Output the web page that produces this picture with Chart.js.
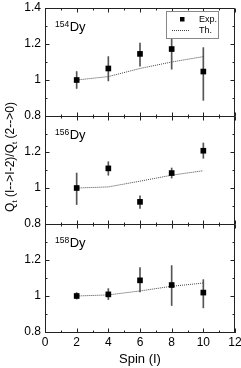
<!DOCTYPE html>
<html>
<head>
<meta charset="utf-8">
<script src="https://cdn.jsdelivr.net/npm/chart.js@4"></script>
<style>
  html, body { margin: 0; padding: 0; background: #fff; }
  #wrap { width: 241px; height: 368px; }
</style>
</head>
<body>
<div id="wrap"><canvas id="myChart" width="241" height="368"></canvas></div>
<script>
const spins = [2, 4, 6, 8, 10]
const xTicks = [0, 2, 4, 6, 8, 10, 12]
const yTicks = [0.8, 1, 1.2, 1.4]

const nuclei = ['154', '156', '158']

const exp154 = [1.00, 1.064, 1.145, 1.172, 1.047]
const lo154 = [0.953, 0.995, 1.077, 1.06, 0.887]
const hi154 = [1.047, 1.13, 1.205, 1.245, 1.18]
const th154 = [1.00, 1.019, 1.064, 1.10, 1.13]

const exp156 = [1.00, 1.109, 0.923, 1.083, 1.207]
const lo156 = [0.908, 1.071, 0.886, 1.055, 1.165]
const hi156 = [1.083, 1.146, 0.957, 1.111, 1.25]
const th156 = [1.00, 1.006, 1.038, 1.071, 1.096]

const exp158 = [1.00, 1.009, 1.087, 1.061, 1.019]
const lo158 = [0.983, 0.98, 1.022, 0.947, 0.934]
const hi158 = [1.019, 1.041, 1.158, 1.169, 1.091]
const th158 = [1.00, 1.006, 1.028, 1.054, 1.072]

const FONT = "'Liberation Sans', Arial, Helvetica, sans-serif"
Chart.defaults.color = '#000'
Chart.defaults.font.family = FONT

// top to bottom
const panels = [
    { axis: 'yTop', exp: exp154, lo: lo154, hi: hi154, th: th154 },
    { axis: 'yMid', exp: exp156, lo: lo156, hi: hi156, th: th156 },
    { axis: 'yBot', exp: exp158, lo: lo158, hi: hi158, th: th158 },
]

const datasets = []
panels.forEach((p) => {
    datasets.push({
        type: 'bar',
        label: 'err',
        yAxisID: p.axis,
        data: spins.map((s, i) => ({ x: s, y: [p.lo[i], p.hi[i]] })),
        backgroundColor: '#555',
        barThickness: 1,
        grouped: false,
        order: 3,
    })
    datasets.push({
        type: 'line',
        label: 'Th.',
        yAxisID: p.axis,
        data: spins.map((s, i) => ({ x: s, y: p.th[i] })),
        borderColor: '#444',
        borderWidth: 1,
        borderDash: [1, 1],
        pointRadius: 0,
        fill: false,
        order: 2,
    })
    datasets.push({
        type: 'line',
        label: 'Exp.',
        yAxisID: p.axis,
        data: spins.map((s, i) => ({ x: s, y: p.exp[i] })),
        showLine: false,
        pointStyle: 'rect',
        pointRadius: 4,
        pointBackgroundColor: '#000',
        pointBorderWidth: 0,
        order: 1,
    })
})

const yAxis = (id) => ({
    type: 'linear',
    position: 'left',
    stack: 'panels',
    min: 0.8,
    max: 1.4,
    afterBuildTicks: (scale) => { scale.ticks = yTicks.map(v => ({ value: v })) },
    ticks: {
        padding: 4,
        font: { size: 12 },
        callback: (v) => (id !== 'yTop' && v > 1.39) ? '' : String(Math.round(v * 10) / 10),
    },
    grid: { drawOnChartArea: false, drawTicks: false },
    border: { display: true, color: '#222', width: 1 },
    afterFit: (scale) => {
        scale.width = 45
        scale.paddingTop = 0
        scale.paddingBottom = 0
    },
})

// frames, inward ticks, panel labels, legend, y title
const decor = {
    id: 'decor',
    afterDatasetsDraw(chart) {
        const ctx = chart.ctx
        const x = chart.scales.x
        ctx.save()
        ctx.strokeStyle = '#222'
        ctx.lineWidth = 1
        panels.forEach((p, k) => {
            const y = chart.scales[p.axis]
            const top = Math.round(y.top) + 0.5
            const bot = Math.round(y.bottom) + 0.5
            const l = Math.round(x.left) + 0.5
            const r = Math.round(x.right) - 0.5
            ctx.beginPath()
            ctx.rect(l, top, r - l, bot - top)
            ctx.stroke()
            ctx.beginPath()
            for (let v = 0; v <= 12; v++) {
                const px = Math.round(x.getPixelForValue(v)) + 0.5
                const len = v % 2 === 0 ? 4 : 2
                ctx.moveTo(px, top); ctx.lineTo(px, top + len)
                ctx.moveTo(px, bot); ctx.lineTo(px, bot - len)
            }
            for (let j = 8; j <= 14; j++) {
                const py = Math.round(y.getPixelForValue(j / 10)) + 0.5
                const len = j % 2 === 0 ? 4 : 2
                ctx.moveTo(l, py); ctx.lineTo(l + len, py)
                ctx.moveTo(r, py); ctx.lineTo(r - len, py)
            }
            ctx.stroke()

            // nucleus label
            ctx.fillStyle = '#000'
            ctx.textBaseline = 'alphabetic'
            ctx.textAlign = 'left'
            ctx.font = '8.5px ' + FONT
            ctx.fillText(nuclei[k], 55, y.top + 19)
            const w = ctx.measureText(nuclei[k]).width
            ctx.font = '13px ' + FONT
            ctx.fillText('Dy', 55 + w + 0.5, y.top + 23)
        })

        // legend
        ctx.fillStyle = '#fff'
        ctx.fillRect(166, 11, 52, 27)
        ctx.strokeStyle = '#888'
        ctx.strokeRect(166.5, 11.5, 52, 27)
        ctx.fillStyle = '#000'
        ctx.fillRect(180, 17, 4.5, 4.5)
        ctx.strokeStyle = '#444'
        ctx.setLineDash([1, 1])
        ctx.beginPath()
        ctx.moveTo(172, 30.5); ctx.lineTo(190, 30.5)
        ctx.stroke()
        ctx.setLineDash([])
        ctx.font = '9px ' + FONT
        ctx.textBaseline = 'middle'
        ctx.fillText('Exp.', 199, 19.5)
        ctx.fillText('Th.', 199, 30.5)

        // y title with subscripts
        const parts = [['Q', 12, 0], ['t', 8, 3], [' (I-->I-2)/Q', 12, 0], ['t', 8, 3], [' (2-->0)', 12, 0]]
        let total = 0
        parts.forEach(p => { ctx.font = p[1] + 'px ' + FONT; total += ctx.measureText(p[0]).width })
        ctx.translate(14, 157)
        ctx.rotate(-Math.PI / 2)
        ctx.textBaseline = 'alphabetic'
        let cx = -total / 2
        parts.forEach(p => {
            ctx.font = p[1] + 'px ' + FONT
            ctx.fillText(p[0], cx, p[2])
            cx += ctx.measureText(p[0]).width
        })
        ctx.restore()
    }
}

const config = {
    type: 'line',
    data: { datasets: datasets },
    options: {
        responsive: false,
        animation: false,
        events: [],
        layout: { padding: { left: 0, right: 6, top: 8, bottom: 0 } },
        plugins: {
            legend: { display: false },
            tooltip: { enabled: false },
        },
        scales: {
            x: {
                type: 'linear',
                position: 'bottom',
                min: 0,
                max: 12,
                offset: false,
                afterBuildTicks: (scale) => { scale.ticks = xTicks.map(v => ({ value: v })) },
                ticks: { padding: 3, font: { size: 12 }, maxRotation: 0 },
                grid: { drawOnChartArea: false, drawTicks: false },
                border: { display: true, color: '#222', width: 1 },
                title: { display: true, text: 'Spin (I)', font: { size: 13 }, padding: { top: 0, bottom: 1 } },
                afterFit: (scale) => {
                    scale.height = 36
                    scale.paddingLeft = 0
                    scale.paddingRight = 0
                },
            },
            // stacked axes are laid out bottom first
            yBot: yAxis('yBot'),
            yMid: yAxis('yMid'),
            yTop: yAxis('yTop'),
        }
    },
    plugins: [decor],
}

const ctx = document.getElementById('myChart')
new Chart(ctx, config)
</script>
</body>
</html>
